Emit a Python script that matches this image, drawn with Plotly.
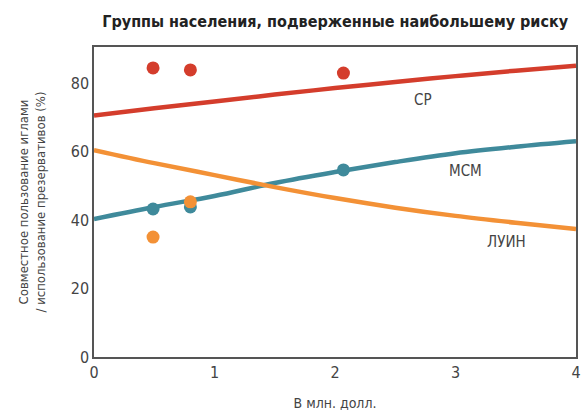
import plotly.graph_objects as go

# fitted curves
curve_x = [0, 0.5, 1, 1.5, 2, 2.5, 3, 3.5, 4]
cp_curve = [70.5, 72.6, 74.6, 76.6, 78.5, 80.3, 82.0, 83.6, 85.0]
msm_curve = [40.3, 43.8, 47.0, 50.8, 54.0, 56.9, 59.5, 61.4, 63.0]
luin_curve = [60.4, 56.6, 53.1, 49.6, 46.4, 43.6, 41.2, 39.2, 37.4]

# observed points
cp_x = [0.49, 0.80, 2.07]
cp_y = [84.4, 83.8, 82.9]
msm_x = [0.49, 0.80, 2.07]
msm_y = [43.2, 43.8, 54.6]
luin_x = [0.49, 0.80]
luin_y = [35.0, 45.3]

labels = ["СР", "МСМ", "ЛУИН"]
label_x = [2.73, 3.08, 3.42]
label_y = [75.0, 54.3, 33.6]

red = "#d43d2c"
teal = "#3f8a9b"
orange = "#f39136"
font = "DejaVu Sans Condensed, Roboto, sans-serif"

fig = go.Figure()
for y, c in [(cp_curve, red), (msm_curve, teal), (luin_curve, orange)]:
    fig.add_trace(go.Scatter(x=curve_x, y=y, mode="lines", line=dict(color=c, width=4.5, shape="spline"),
                             hoverinfo="skip"))
for x, y, c in [(cp_x, cp_y, red), (msm_x, msm_y, teal), (luin_x, luin_y, orange)]:
    fig.add_trace(go.Scatter(x=x, y=y, mode="markers", marker=dict(color=c, size=13)))

for t, x, y in zip(labels, label_x, label_y):
    fig.add_annotation(x=x, y=y, text=t, showarrow=False, font=dict(size=15, color="#444"))

fig.update_layout(
    width=583, height=420,
    margin=dict(l=94, r=7, t=47, b=63),
    plot_bgcolor="white", paper_bgcolor="white",
    showlegend=False,
    font=dict(family=font, color="#444"),
    title=dict(text="<b>Группы населения, подверженные наибольшему риску</b>",
               x=0.575, xanchor="center", y=0.948, yanchor="middle",
               font=dict(size=16, color="#222", family=font)),
)
fig.update_xaxes(range=[0, 4], tickvals=[0, 1, 2, 3, 4], showgrid=False, zeroline=False,
                 showline=True, linecolor="#555", linewidth=1.5, mirror=True,
                 tickfont=dict(size=16), ticks="", automargin=False,
                 title=dict(text="В млн. долл.", font=dict(size=14), standoff=17))
fig.update_yaxes(range=[0, 90.5], tickvals=[0, 20, 40, 60, 80], showgrid=False, zeroline=False,
                 showline=True, linecolor="#555", linewidth=1.5, mirror=True,
                 tickfont=dict(size=16), ticks="", automargin=False,
                 title=dict(text="Совместное пользование иглами<br>/ использование презервативов (%)",
                            font=dict(size=13), standoff=22))

# drop the default body margin so the figure fills the window
fig.write_html("out.html", config={"displayModeBar": False},
               post_script="document.body.style.margin='0';document.body.style.overflow='hidden';")
